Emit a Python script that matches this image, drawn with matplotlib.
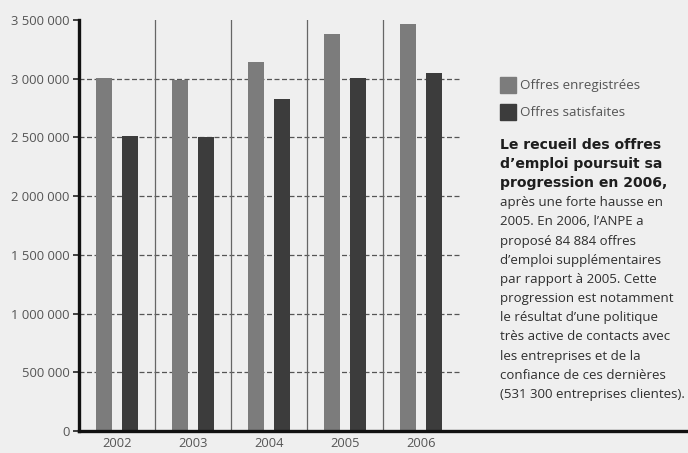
import matplotlib
matplotlib.use("Agg")
import matplotlib.pyplot as plt
from matplotlib.patches import Rectangle

years = ["2002", "2003", "2004", "2005", "2006"]
offres_enregistrees = [3010000, 2990000, 3140000, 3385000, 3470000]
offres_satisfaites = [2510000, 2500000, 2830000, 3010000, 3050000]
yticks = [0, 500000, 1000000, 1500000, 2000000, 2500000, 3000000, 3500000]
ytick_labels = ["0", "500 000", "1 000 000", "1 500 000", "2 000 000",
                "2 500 000", "3 000 000", "3 500 000"]
legend_labels = ["Offres enregistrées", "Offres satisfaites"]
bold_lines = ["Le recueil des offres", "d\u2019emploi poursuit sa",
              "progression en 2006,"]
plain_lines = ["après une forte hausse en", "2005. En 2006, l\u2019ANPE a",
               "proposé 84 884 offres", "d\u2019emploi supplémentaires",
               "par rapport à 2005. Cette", "progression est notamment",
               "le résultat d\u2019une politique", "très active de contacts avec",
               "les entreprises et de la", "confiance de ces dernières",
               "(531 300 entreprises clientes)."]

BG = "#efefef"
C_ENR = "#7c7c7c"
C_SAT = "#3c3c3c"

plt.rcParams["font.family"] = ["Open Sans", "DejaVu Sans"]

W, H = 688, 453
fig = plt.figure(figsize=(W / 100, H / 100), dpi=100, facecolor=BG)

# axes box in pixel terms: left 79, right 686, bottom 431, top 20
ax = fig.add_axes([79 / W, (H - 431) / H, (686 - 79) / W, (431 - 20) / H])
ax.set_facecolor(BG)

n = len(years)
unit = 76.0
xmax = -0.5 + (686 - 79) / unit
ax.set_xlim(-0.5, xmax)
ax.set_ylim(0, 3500000)

# grid: dashed horizontals (none on the top value), solid separators
for v in yticks[1:-1]:
    ax.plot([-0.5, n - 0.5], [v, v], color="#555555", lw=0.9,
            ls=(0, (4, 2)), zorder=1)
for b in range(1, n):
    ax.axvline(b - 0.5, color="#666666", lw=0.9, zorder=1)

bw = 0.21
off = 0.17
xs = list(range(n))
ax.bar([x - off for x in xs], offres_enregistrees, width=bw, color=C_ENR,
       zorder=2)
ax.bar([x + off for x in xs], offres_satisfaites, width=bw, color=C_SAT,
       zorder=2)

for s in ["top", "right"]:
    ax.spines[s].set_visible(False)
for s in ["left", "bottom"]:
    ax.spines[s].set_linewidth(2.4)
    ax.spines[s].set_color("#111111")

ax.set_yticks(yticks)
ax.set_yticklabels(ytick_labels)
ax.tick_params(axis="y", length=4, width=1.2, color="#222222",
               labelsize=9.4, labelcolor="#555555", pad=3)
ax.set_xticks(xs)
ax.set_xticklabels(years)
ax.tick_params(axis="x", length=0, labelsize=9.3, labelcolor="#555555", pad=4)


def fx(px):
    return px / W


def fy(py):
    return 1 - py / H


# legend
for label, color, cy in [(legend_labels[0], C_ENR, 85),
                         (legend_labels[1], C_SAT, 112)]:
    fig.patches.append(Rectangle((fx(500), fy(cy + 8)), 16 / W, 16 / H,
                                 transform=fig.transFigure, color=color))
    fig.text(fx(520), fy(cy), label, fontsize=9.6, color="#555555",
             va="center", ha="left")

# commentary
y0 = 145
step = 19.2
for i, line in enumerate(bold_lines + plain_lines):
    if i < len(bold_lines):
        fig.text(fx(500), fy(y0 + i * step), line, fontsize=10.1,
                 family="DejaVu Sans", fontweight="bold", color="#1e1e1e",
                 va="center", ha="left")
    else:
        fig.text(fx(500), fy(y0 + i * step), line, fontsize=9.5,
                 color="#2e2e2e", va="center", ha="left")

fig.savefig("out.png", dpi=100, facecolor=BG)
